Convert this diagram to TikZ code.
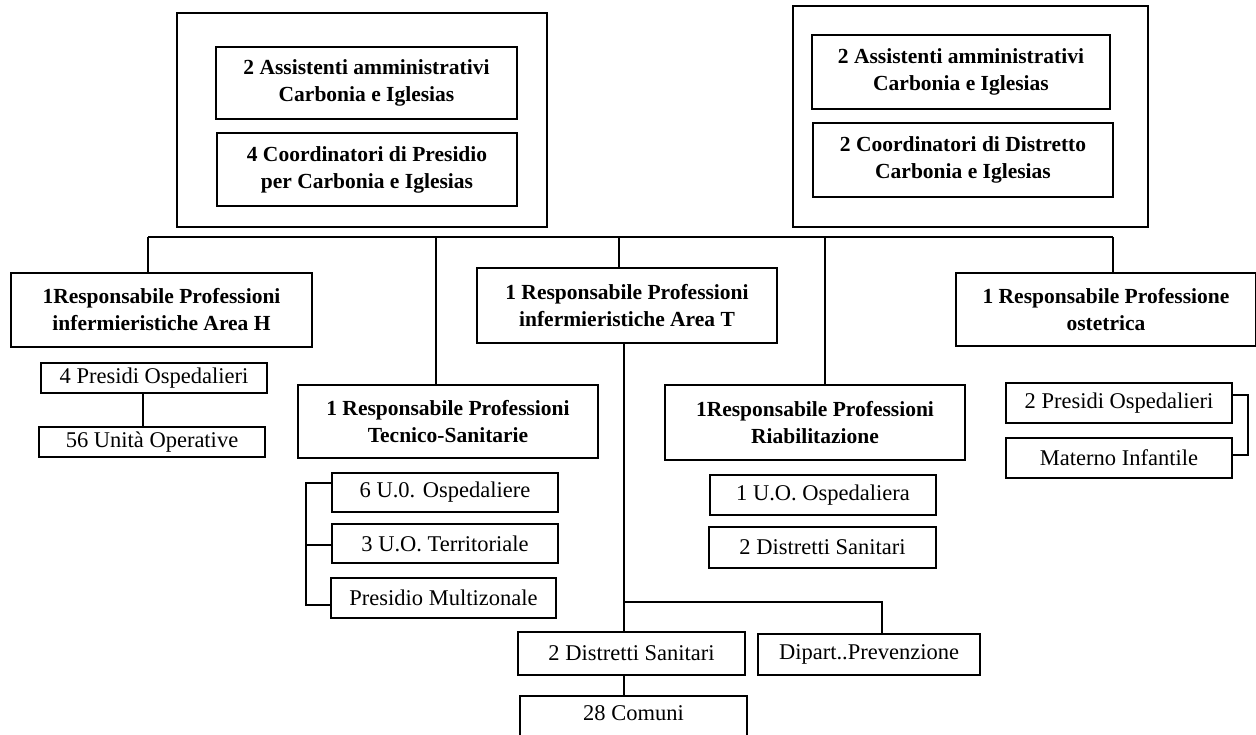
\documentclass[tikz,border=0pt]{standalone}
\usepackage{fontspec}
\setmainfont{Liberation Serif}
\begin{document}
\begin{tikzpicture}[x=1pt,y=-1pt,
  box/.style={draw, line width=1.4pt, inner sep=0pt, align=center,
    font=\fontsize{22.5}{27}\selectfont},
  bbox/.style={box, font=\fontsize{21.5}{27}\selectfont\bfseries},
  link/.style={line width=1.5pt}]
\useasboundingbox (0,0) rectangle (1256,734);
% outer frames
\node[box, minimum width=370, minimum height=214] (outL) at (362,120) {};
\node[box, minimum width=355, minimum height=221] (outR) at (970.5,116.5) {};
% top inner boxes
\node[bbox, minimum width=301, minimum height=72] (aL) at (366.5,83) {2 Assistenti amministrativi\\Carbonia e Iglesias};
\node[bbox, minimum width=300, minimum height=73] (cL) at (367,169.5) {4 Coordinatori di Presidio\\per Carbonia e Iglesias};
\node[bbox, minimum width=298, minimum height=74] (aR) at (961,72) {2 Assistenti amministrativi\\Carbonia e Iglesias};
\node[bbox, minimum width=300, minimum height=74] (cR) at (963,160) {2 Coordinatori di Distretto\\Carbonia e Iglesias};
% responsabili
\node[bbox, minimum width=301, minimum height=74] (H) at (161.5,310) {1Responsabile Professioni\\infermieristiche Area H};
\node[bbox, minimum width=300, minimum height=75] (T) at (627,305.5) {1 Responsabile Professioni\\infermieristiche Area T};
\node[bbox, minimum width=300, minimum height=73] (O) at (1106,309.5) {1 Responsabile Professione\\ostetrica};
\node[bbox, minimum width=300, minimum height=73] (Tec) at (448,421.5) {1 Responsabile Professioni\\Tecnico-Sanitarie};
\node[bbox, minimum width=300, minimum height=75] (Ria) at (815,422.5) {1Responsabile Professioni\\Riabilitazione};
% sub units
\node[box, minimum width=226, minimum height=30] (h1) at (154,378) {4 Presidi Ospedalieri};
\node[box, minimum width=226, minimum height=30] (h2) at (152,442) {56 Unità Operative};
\node[box, minimum width=226, minimum height=39] (t1) at (445,492.5) {6 U.0. Ospedaliere};
\node[box, minimum width=226, minimum height=39] (t2) at (445,543.5) {3 U.O. Territoriale};
\node[box, minimum width=225, minimum height=40] (t3) at (443.5,598) {Presidio Multizonale};
\node[box, minimum width=226, minimum height=40] (r1) at (823,495) {1 U.O. Ospedaliera};
\node[box, minimum width=227, minimum height=41] (r2) at (822.5,547.5) {2 Distretti Sanitari};
\node[box, minimum width=227, minimum height=43] (d1) at (631.5,653.5) {2 Distretti Sanitari};
\node[box, minimum width=222, minimum height=41] (d2) at (869,654.5) {Dipart..Prevenzione};
\node[box, minimum width=227, minimum height=40] (d3) at (633.5,716) {\raisebox{5pt}{28 Comuni}};
\node[box, minimum width=226, minimum height=40] (p1) at (1119,403) {2 Presidi Ospedalieri};
\node[box, minimum width=226, minimum height=40] (p2) at (1119,458) {Materno Infantile};
% bus
\coordinate (bH) at (148,237);
\coordinate (bTec) at (436,237);
\coordinate (bT) at (619,237);
\coordinate (bRia) at (825,237);
\coordinate (bO) at (1113,237);
\draw[link] (bH) -- (bO);
\draw[link] (bH) -- (bH |- H.north);
\draw[link] (bTec) -- (bTec |- Tec.north);
\draw[link] (bT) -- (bT |- T.north);
\draw[link] (bRia) -- (bRia |- Ria.north);
\draw[link] (bO) -- (bO |- O.north);
% area H
\coordinate (xh) at (143,0);
\draw[link] (xh |- h1.south) -- (xh |- h2.north);
% tecnico bracket
\coordinate (k1) at (306,483);
\coordinate (k2) at (306,545);
\coordinate (k3) at (306,605);
\draw[link] (k1 -| t1.west) -- (k1) -- (k3) -- (k3 -| t3.west);
\draw[link] (k2) -- (k2 -| t2.west);
% area T
\coordinate (xt) at (624,0);
\coordinate (j1) at (624,602);
\coordinate (j2) at (882,602);
\draw[link] (xt |- T.south) -- (xt |- d1.north);
\draw[link] (j1) -- (j2) -- (j2 |- d2.north);
\draw[link] (xt |- d1.south) -- (xt |- d3.north);
% ostetrica bracket
\coordinate (m1) at (1248,395);
\coordinate (m2) at (1248,455);
\draw[link] (m1 -| p1.east) -- (m1) -- (m2) -- (m2 -| p2.east);
\end{tikzpicture}
\end{document}
